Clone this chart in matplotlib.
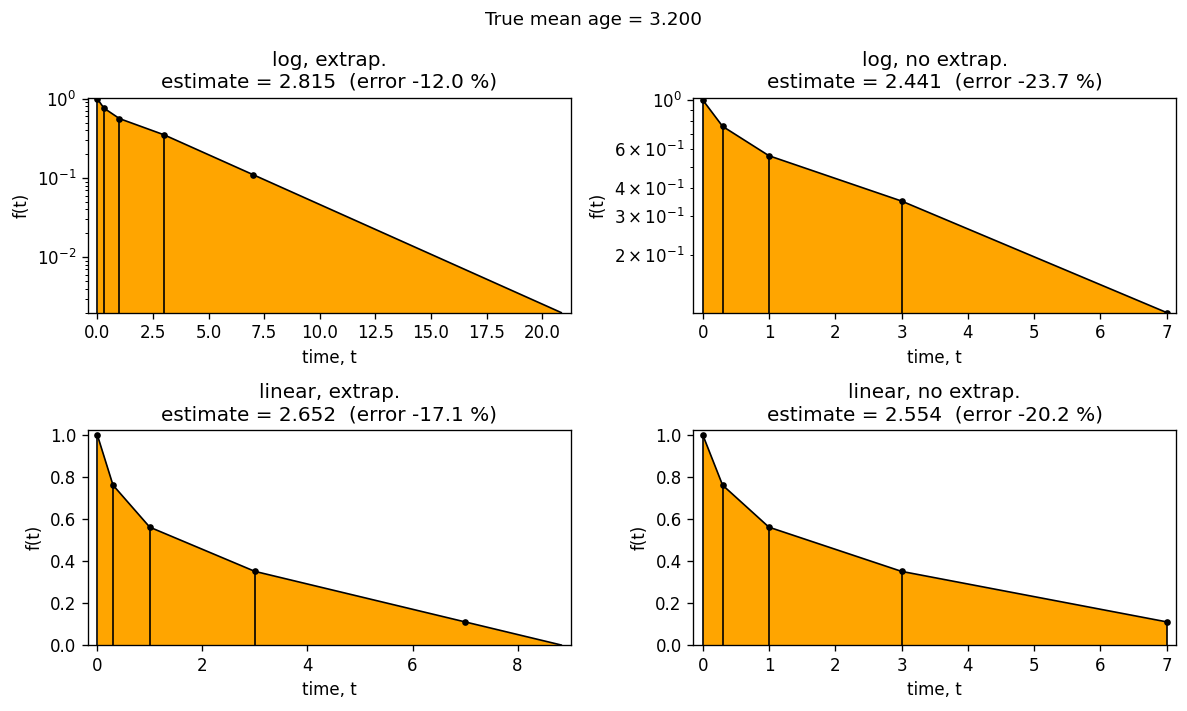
import matplotlib
matplotlib.use("Agg")
import matplotlib.pyplot as plt
import numpy as np

# data
t_obs = [0.0, 0.3, 1.0, 3.0, 7.0]
f_obs = [1.0, 0.76, 0.56, 0.35, 0.11]
log_extrap_t = 20.85
log_extrap_f = 0.002
lin_extrap_t = 8.83
lin_extrap_f = 0.0
true_mean = 3.200
panel_titles = ["log, extrap.", "log, no extrap.", "linear, extrap.", "linear, no extrap."]
estimates = [2.815, 2.441, 2.652, 2.554]
errors = [-12.0, -23.7, -17.1, -20.2]
use_log = [True, True, False, False]
use_extrap = [True, False, True, False]

fig, axes = plt.subplots(2, 2, figsize=(1187/120, 711/120), dpi=120)
axes = axes.ravel()

for ax, title, est, err, lg, ex in zip(axes, panel_titles, estimates, errors, use_log, use_extrap):
    if ex:
        if lg:
            tt = t_obs[:-1] + [log_extrap_t]
            ff = f_obs[:-1] + [log_extrap_f]
        else:
            tt = t_obs[:-1] + [lin_extrap_t]
            ff = f_obs[:-1] + [lin_extrap_f]
        bounds_t = t_obs[:-1]
        bounds_f = f_obs[:-1]
    else:
        tt = list(t_obs)
        ff = list(f_obs)
        bounds_t = t_obs
        bounds_f = f_obs
    if lg:
        ax.set_yscale('log')
        base = min(ff)
    else:
        base = 0.0
    ax.fill_between(tt, ff, base, color='orange', linewidth=0)
    ax.plot(tt, ff, color='black', lw=1)
    ax.plot(t_obs, f_obs, 'o', color='black', ms=3)
    ax.vlines(bounds_t, base, bounds_f, color='black', lw=1.0)
    ax.margins(x=0.02)
    ax.set_ylim(base, 1.02 * max(ff))
    ax.set_xlabel('time, t')
    ax.set_ylabel('f(t)')
    ax.set_title(f"{title}\nestimate = {est:.3f}  (error {err:.1f} %)")

fig.suptitle(f"True mean age = {true_mean:.3f}", fontsize=11, y=0.985)
fig.subplots_adjust(left=0.0741, right=0.9907, top=0.8622, bottom=0.0928,
                    wspace=0.2547, hspace=0.549)
fig.savefig('out.png', dpi=120)
